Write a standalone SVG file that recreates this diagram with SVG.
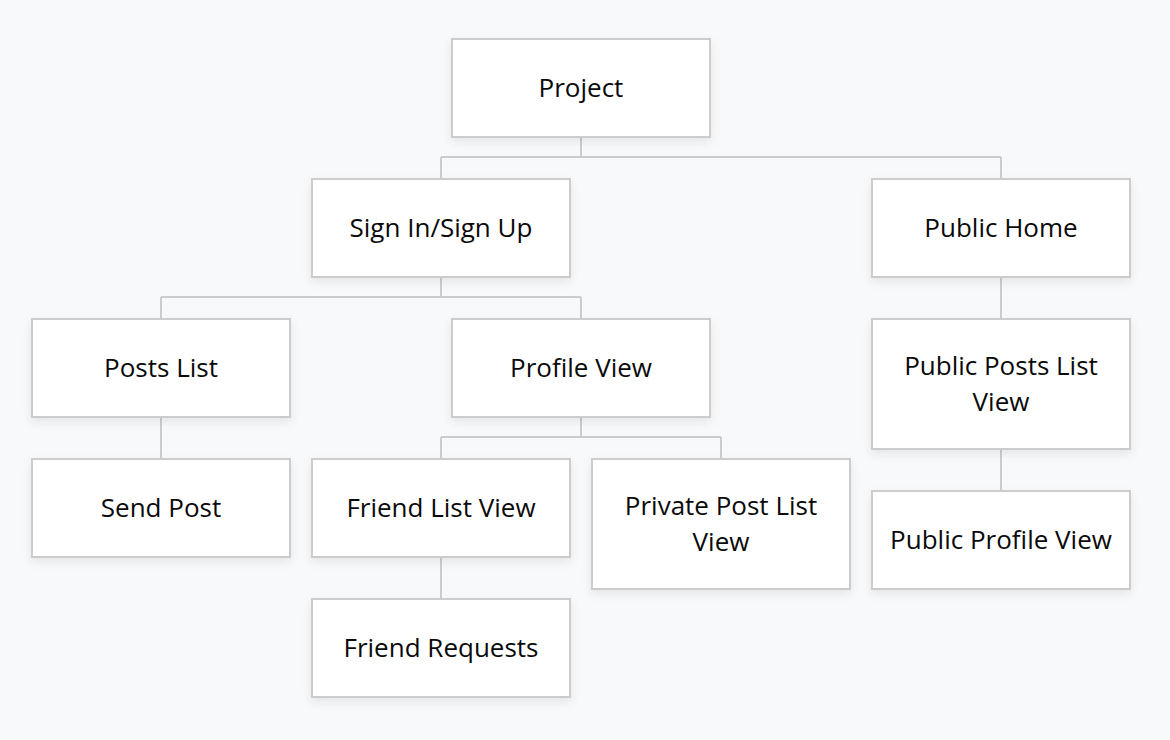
<svg xmlns="http://www.w3.org/2000/svg" width="1170" height="740" viewBox="0 0 1170 740">
<defs>
<filter id="sh" x="-20%" y="-20%" width="140%" height="150%">
<feDropShadow dx="0" dy="4" stdDeviation="5" flood-color="#000" flood-opacity="0.08"/>
</filter>
<style>
.box{fill:#fff;stroke:#cccccc;stroke-width:2;filter:url(#sh)}
.t{font-family:"Open Sans","Noto Sans",sans-serif;font-size:26px;fill:#0a0a0a;text-anchor:middle;dominant-baseline:central}
.c{fill:none;stroke:#cccccc;stroke-width:2}
</style>
</defs>
<rect width="1170" height="740" fill="#f8f9fb"/>
<g id="connectors">
<path class="c" d="M581 137V157M441 157H1001M441 157V179M1001 157V179"/>
<path class="c" d="M441 277V297M161 297H581M161 297V319M581 297V319"/>
<path class="c" d="M1001 277V319"/>
<path class="c" d="M161 417V459"/>
<path class="c" d="M581 417V437M441 437H721M441 437V459M721 437V459"/>
<path class="c" d="M1001 449V491"/>
<path class="c" d="M441 557V599"/>
</g>
<g id="project"><rect class="box" x="452" y="39" width="258" height="98"/><text class="t" x="581" y="87">Project</text></g>
<g id="signin"><rect class="box" x="312" y="179" width="258" height="98"/><text class="t" x="441" y="227">Sign In/Sign Up</text></g>
<g id="publichome"><rect class="box" x="872" y="179" width="258" height="98"/><text class="t" x="1001" y="227">Public Home</text></g>
<g id="postslist"><rect class="box" x="32" y="319" width="258" height="98"/><text class="t" x="161" y="367">Posts List</text></g>
<g id="profileview"><rect class="box" x="452" y="319" width="258" height="98"/><text class="t" x="581" y="367">Profile View</text></g>
<g id="publicposts"><rect class="box" x="872" y="319" width="258" height="130"/><text class="t" x="1001" y="365">Public Posts List</text><text class="t" x="1001" y="401">View</text></g>
<g id="sendpost"><rect class="box" x="32" y="459" width="258" height="98"/><text class="t" x="161" y="507">Send Post</text></g>
<g id="friendlist"><rect class="box" x="312" y="459" width="258" height="98"/><text class="t" x="441" y="507">Friend List View</text></g>
<g id="privatepost"><rect class="box" x="592" y="459" width="258" height="130"/><text class="t" x="721" y="505">Private Post List</text><text class="t" x="721" y="541">View</text></g>
<g id="publicprofile"><rect class="box" x="872" y="491" width="258" height="98"/><text class="t" x="1001" y="539">Public Profile View</text></g>
<g id="friendrequests"><rect class="box" x="312" y="599" width="258" height="98"/><text class="t" x="441" y="647">Friend Requests</text></g>
</svg>
